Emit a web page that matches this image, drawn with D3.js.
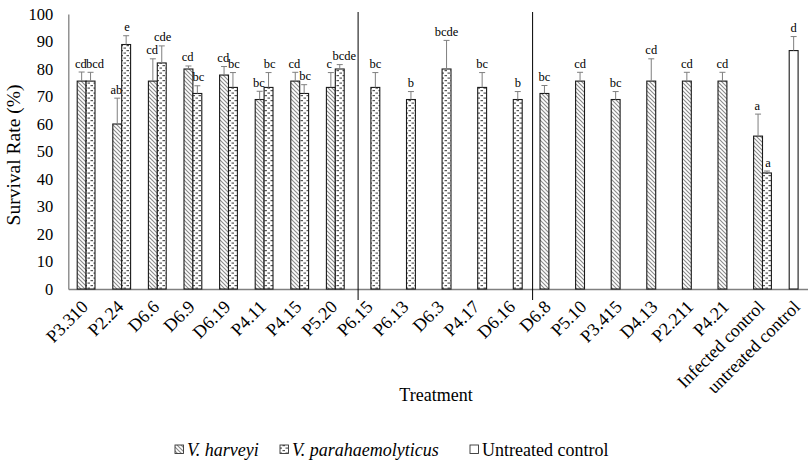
<!DOCTYPE html>
<html><head><meta charset="utf-8">
<script src="https://cdn.jsdelivr.net/npm/d3@7"></script>
</head><body style="margin:0;background:#fff">
<svg id="c" width="808" height="461" font-family="Liberation Serif"></svg>
<script>
const categories = ["P3.310","P2.24","D6.6","D6.9","D6.19","P4.11","P4.15","P5.20","P6.15","P6.13","D6.3","P4.17","D6.16","D6.8","P5.10","P3.415","D4.13","P2.211","P4.21","Infected control","untreated control"];
// null = no bar
const harveyi      = [75.6,60.0,75.6,80.0,77.8,68.9,75.6,73.3,null,null,null,null,null,71.1,75.6,68.9,75.6,75.6,75.6,55.6,null];
const harveyiErr   = [3.3,9.4,8.1,1.1,3.1,3.0,3.2,5.4,null,null,null,null,null,2.9,3.2,2.9,8.1,3.2,3.2,8.0,null];
const harveyiLet   = ["cd","ab","cd","cd","cd","bc","cd","c",null,null,null,null,null,"bc","cd","bc","cd","cd","cd","a",null];
const parahaem     = [75.6,88.9,82.2,71.1,73.3,73.3,71.1,80.0,73.3,68.9,80.0,73.3,68.9,null,null,null,null,null,null,42.2,null];
const parahaemErr  = [3.2,3.2,6.2,2.8,5.4,5.4,3.2,1.6,5.4,2.9,10.4,5.4,2.9,null,null,null,null,null,null,0.7,null];
const parahaemLet  = ["bcd","e","cde","bc","bc","bc","bc","bcde","bc","b","bcde","bc","b",null,null,null,null,null,null,"a",null];
const untreated    = [null,null,null,null,null,null,null,null,null,null,null,null,null,null,null,null,null,null,null,null,86.7];
const untreatedErr = [null,null,null,null,null,null,null,null,null,null,null,null,null,null,null,null,null,null,null,null,5.1];
const untreatedLet = [null,null,null,null,null,null,null,null,null,null,null,null,null,null,null,null,null,null,null,null,"d"];
const yTicks = [0,10,20,30,40,50,60,70,80,90,100];
const separatorsAfter = ["P5.20","D6.16"];

const svg = d3.select("#c");
const FONT = "Liberation Serif";
const x0 = 68.3, step = 35.6;
const x = d3.scaleBand().domain(categories).range([x0, x0 + step*categories.length]).paddingInner(0.5).paddingOuter(0.25);
const xs = d3.scaleBand().domain(["vh","vp"]).range([0, x.bandwidth()]);
const y = d3.scaleLinear().domain([0,100]).range([289,14]);

const defs = svg.append("defs");
const ph = defs.append("pattern").attr("id","hatch").attr("patternUnits","userSpaceOnUse").attr("width",4).attr("height",4);
ph.append("rect").attr("width",4).attr("height",4).attr("fill","#fff");
ph.append("path").attr("d","M-1,-1L5,5M-1,3L1,5M3,-1L5,1").attr("stroke","#8a8a8a").attr("stroke-width",1.1);
const pd = defs.append("pattern").attr("id","dots").attr("patternUnits","userSpaceOnUse").attr("width",6).attr("height",5);
pd.append("rect").attr("width",6).attr("height",5).attr("fill","#fff");
pd.append("rect").attr("x",0.5).attr("y",0).attr("width",2.5).attr("height",1.2).attr("fill","#555");
pd.append("rect").attr("x",3.5).attr("y",2.5).attr("width",2.5).attr("height",1.2).attr("fill","#555");

// axes
const xAxis = svg.append("g").attr("transform",`translate(0,${y(0)})`).call(d3.axisBottom(x).tickSize(0).tickPadding(0));
xAxis.attr("font-family",FONT).attr("font-size",18);
xAxis.select(".domain").attr("stroke","#808080").attr("stroke-width",1.3);
xAxis.selectAll(".tick text").attr("font-family",FONT).attr("font-size",18).attr("fill","#000")
  .attr("text-anchor","end").attr("dy",0).attr("y",0)
  .attr("transform","translate(3,19) rotate(-45)");

const yAxis = svg.append("g").attr("transform",`translate(${x0},0)`).call(d3.axisLeft(y).tickValues(yTicks).tickSize(0).tickPadding(15));
yAxis.attr("font-family",FONT).attr("font-size",16.5);
yAxis.select(".domain").attr("stroke","#808080").attr("stroke-width",1.3);
yAxis.selectAll(".tick text").attr("font-family",FONT).attr("font-size",16.5).attr("fill","#000");

// separators
separatorsAfter.forEach((c,i) => {
  const xi = x(c) + x.bandwidth() + step*0.25 + (i===0 ? 5 : 1.5);
  svg.append("line").attr("x1",xi).attr("x2",xi).attr("y1",12).attr("y2",300).attr("stroke","#000").attr("stroke-width",1);
});

function series(vals, errs, lets, slot, fill, other) {
  const g = svg.append("g");
  categories.forEach((c,i) => {
    const v = vals[i]; if (v == null) return;
    const bx = x(c) + xs(slot), bw = xs.bandwidth();
    g.append("rect").attr("x",bx).attr("y",y(v)).attr("width",bw).attr("height",y(0)-y(v))
      .attr("fill",fill).attr("stroke","#1a1a1a").attr("stroke-width",1.1);
    const cx = bx + bw/2, et = y(v + errs[i]);
    g.append("line").attr("x1",cx).attr("x2",cx).attr("y1",y(v)).attr("y2",et).attr("stroke","#7f7f7f").attr("stroke-width",1);
    g.append("line").attr("x1",cx-3).attr("x2",cx+3).attr("y1",et).attr("y2",et).attr("stroke","#7f7f7f").attr("stroke-width",1);
    // nudge paired labels apart slightly, as in the original
    const paired = other && other[i] != null;
    let dx = 0;
    if (paired) {
      if (slot === "vp") dx = (lets[i].length >= 3 && lets[i] !== "cde") ? 4.5 : 1;
      else dx = lets[i] === "c" ? -1.5 : -0.8;
    }
    g.append("text").attr("x",cx+dx).attr("y",et-4.5).attr("text-anchor","middle").attr("font-family",FONT).attr("font-size",12.5).text(lets[i]);
  });
}
series(harveyi, harveyiErr, harveyiLet, "vh", "url(#hatch)", parahaem);
series(parahaem, parahaemErr, parahaemLet, "vp", "url(#dots)", harveyi);
series(untreated, untreatedErr, untreatedLet, "vh", "#fff", null);

// titles
svg.append("text").attr("x",436).attr("y",401).attr("text-anchor","middle").attr("font-family",FONT).attr("font-size",18).text("Treatment");
svg.append("text").attr("transform","translate(20,155) rotate(-90)").attr("text-anchor","middle").attr("font-family",FONT).attr("font-size",19.5).text("Survival Rate (%)");

// legend
const legend = [
  {label:"V. harveyi", fill:"url(#hatch)", italic:true, x:175},
  {label:"V. parahaemolyticus", fill:"url(#dots)", italic:true, x:280},
  {label:"Untreated control", fill:"#fff", italic:false, x:470}
];
const lg = svg.append("g");
legend.forEach(d => {
  lg.append("rect").attr("x",d.x).attr("y",445).attr("width",8.5).attr("height",8.5).attr("fill",d.fill).attr("stroke","#333").attr("stroke-width",0.9);
  lg.append("text").attr("x",d.x+12).attr("y",456).attr("font-family",FONT).attr("font-size",18)
    .attr("font-style",d.italic?"italic":"normal").text(d.label);
});
</script>
</body></html>
